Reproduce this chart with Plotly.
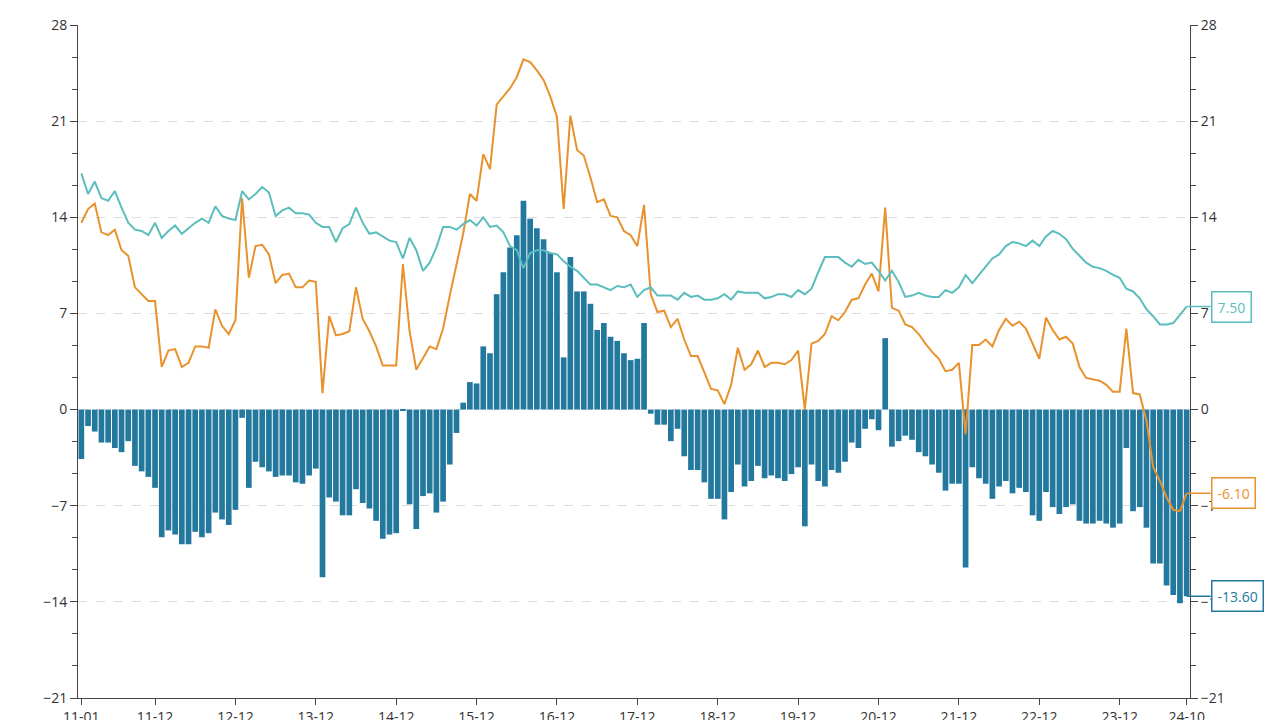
import plotly.graph_objects as go

# months 2011-01 .. 2024-10
months = [f"{y:02d}-{m:02d}" for y in range(11, 25) for m in range(1, 13)][:166]

bars = [-3.6, -1.2, -1.6, -2.4, -2.4, -2.8, -3.1, -2.3, -4.1, -4.5, -4.9, -5.7, -9.3, -8.8, -9.1, -9.8, -9.8, -8.9, -9.3, -9.0, -7.5, -8.0, -8.4, -7.3, -0.6, -5.7, -3.8,
        -4.2, -4.5, -4.9, -4.8, -4.8, -5.3, -5.4, -4.8, -4.3, -12.2, -6.4, -6.7, -7.7, -7.7, -5.8, -6.8, -7.2, -8.1, -9.4, -9.1, -9.0, -0.1, -6.9, -8.7, -6.3, -6.1, -7.5, -6.7, -4.0, -1.7,
        0.5, 2.0, 1.9, 4.6, 4.1, 8.4, 10.0, 11.8, 12.7, 15.2, 13.9, 13.2, 12.4, 11.4, 10.0, 3.8, 11.1, 8.6, 8.6, 7.7, 5.8, 6.3, 5.3, 5.0, 4.1, 3.6, 3.7, 6.3, -0.3, -1.1,
        -1.1, -2.3, -1.4, -3.4, -4.4, -4.4, -5.3, -6.5, -6.5, -8.0, -6.0, -4.0, -5.6, -5.2, -4.1, -5.0, -4.8, -5.0, -5.2, -4.7, -4.2, -8.5, -4.0, -5.2, -5.6, -4.4, -4.6, -3.8,
        -2.4, -2.8, -1.4, -0.7, -1.5, 5.2, -2.7, -2.3, -1.9, -2.2, -3.1, -3.4, -4.0, -4.6, -5.9, -5.4, -5.4, -11.5, -4.2, -5.0, -5.4, -6.5, -5.6, -5.2, -6.1, -5.7, -6.0,
        -7.7, -8.1, -6.0, -7.1, -7.6, -7.1, -6.9, -8.1, -8.3, -8.3, -8.1, -8.3, -8.6, -8.3, -2.8, -7.4, -7.1, -8.6, -11.2, -11.2, -12.8, -13.5, -14.1, -13.6]

orange = [13.6, 14.6, 15.0, 12.9, 12.7, 13.1, 11.6, 11.2, 8.9, 8.4, 7.9, 7.9, 3.1, 4.3, 4.4, 3.1, 3.4, 4.6, 4.6, 4.5, 7.3, 6.1, 5.5, 6.5, 15.4, 9.6, 11.9,
          12.0, 11.3, 9.2, 9.8, 9.9, 8.9, 8.9, 9.4, 9.3, 1.2, 6.8, 5.4, 5.5, 5.7, 8.9, 6.6, 5.7, 4.6, 3.2, 3.2, 3.2, 10.6, 5.7, 2.9, 3.7, 4.6, 4.4, 5.9, 8.3, 10.6,
          12.8, 15.7, 15.2, 18.6, 17.5, 22.2, 22.8, 23.4, 24.2, 25.5, 25.3, 24.7, 24.0, 22.8, 21.3, 14.6, 21.4, 18.9, 18.5, 16.9, 15.1, 15.3, 14.1, 14.0, 13.0, 12.7, 11.9, 14.9, 8.4, 7.1,
          7.2, 6.0, 6.6, 5.1, 3.9, 3.9, 2.7, 1.5, 1.4, 0.4, 1.8, 4.5, 2.9, 3.3, 4.3, 3.1, 3.4, 3.4, 3.3, 3.6, 4.3, 0.0, 4.8, 5.0, 5.5, 6.8, 6.5, 7.1,
          8.0, 8.1, 9.1, 9.9, 8.6, 14.7, 7.4, 7.2, 6.2, 6.0, 5.5, 4.8, 4.2, 3.7, 2.8, 2.9, 3.4, -1.8, 4.7, 4.7, 5.1, 4.6, 5.8, 6.6, 6.1, 6.4, 5.9,
          4.8, 3.7, 6.7, 5.8, 5.1, 5.3, 4.8, 3.1, 2.3, 2.2, 2.1, 1.8, 1.3, 1.3, 5.9, 1.2, 1.1, -0.8, -4.2, -5.2, -6.4, -7.3, -7.4, -6.1]

teal = [17.2, 15.7, 16.6, 15.4, 15.2, 15.9, 14.7, 13.6, 13.1, 13.0, 12.7, 13.6, 12.5, 13.0, 13.4, 12.8, 13.2, 13.6, 13.9, 13.6, 14.8, 14.1, 13.9, 13.8, 15.9, 15.3, 15.7,
        16.2, 15.8, 14.1, 14.5, 14.7, 14.3, 14.3, 14.2, 13.6, 13.3, 13.3, 12.2, 13.2, 13.5, 14.7, 13.6, 12.8, 12.9, 12.6, 12.3, 12.2, 11.0, 12.5, 11.6, 10.1, 10.7, 11.8, 13.3, 13.3, 13.1,
        13.5, 13.8, 13.4, 14.0, 13.3, 13.4, 12.9, 11.9, 11.6, 10.3, 11.4, 11.6, 11.6, 11.4, 11.3, 10.8, 10.4, 10.1, 9.6, 9.1, 9.1, 8.9, 8.7, 9.0, 8.9, 9.1, 8.2, 8.7, 8.9, 8.3,
        8.3, 8.3, 8.0, 8.5, 8.2, 8.3, 8.0, 8.0, 8.1, 8.4, 8.0, 8.6, 8.5, 8.5, 8.5, 8.1, 8.2, 8.4, 8.4, 8.2, 8.7, 8.4, 8.8, 10.0, 11.1, 11.1, 11.1, 10.7,
        10.4, 10.9, 10.6, 10.7, 10.1, 9.4, 10.1, 9.3, 8.2, 8.3, 8.5, 8.3, 8.2, 8.2, 8.7, 8.5, 8.9, 9.8, 9.2, 9.8, 10.4, 11.0, 11.3, 11.9, 12.2, 12.1, 11.9,
        12.3, 11.9, 12.6, 13.0, 12.8, 12.4, 11.7, 11.2, 10.7, 10.4, 10.3, 10.1, 9.8, 9.6, 8.8, 8.6, 8.1, 7.3, 6.8, 6.2, 6.2, 6.3, 6.9, 7.5]

tick_idx = [0, 11, 23, 35, 47, 59, 71, 83, 95, 107, 119, 131, 143, 155, 165]

BLUE, ORANGE, TEAL = "#23789e", "#e8922e", "#5bbdbd"

fig = go.Figure()
fig.add_trace(go.Bar(x=months, y=bars, marker=dict(color=BLUE, line=dict(width=0))))
fig.add_trace(go.Scatter(x=months, y=orange, mode="lines", line=dict(color=ORANGE, width=2)))
fig.add_trace(go.Scatter(x=months, y=teal, mode="lines", line=dict(color=TEAL, width=2), yaxis="y2"))

yax = dict(range=[-21, 28], tickvals=[-21, -14, -7, 0, 7, 14, 21, 28], showline=True, linecolor="#444",
           ticks="outside", ticklen=7, tickcolor="#444", zeroline=False, automargin=False,
           tickfont=dict(family="Open Sans", size=14, color="#333"),
           minor=dict(dtick=7 / 3, tick0=0, ticks="outside", ticklen=5, tickcolor="#444", showgrid=False))
fig.update_layout(
    width=1280, height=720, margin=dict(l=70, r=98, t=17, b=30),
    plot_bgcolor="white", paper_bgcolor="white", showlegend=False, bargap=0.15,
    xaxis=dict(type="category", tickvals=[months[i] for i in tick_idx], showline=True, linecolor="#444",
               ticks="outside", ticklen=6, tickcolor="#444", showgrid=False, automargin=False,
               tickfont=dict(family="Open Sans", size=14, color="#333"), range=[-0.5, 165.5]),
    yaxis=dict(**yax, showgrid=True, gridcolor="#ddd", griddash="dash"),
    yaxis2=dict(**yax, overlaying="y", side="right", showgrid=False),
)

for val, col in [(teal[-1], TEAL), (orange[-1], ORANGE), (bars[-1], BLUE)]:
    fig.add_annotation(x=months[-1], y=val, text=f"{val:.2f}", showarrow=True, arrowhead=0,
                       arrowcolor=col, arrowwidth=1.5, ax=24, ay=0, xanchor="left",
                       bordercolor=col, borderwidth=1.5, borderpad=5, bgcolor="white",
                       font=dict(family="Open Sans", size=14, color=col))

fig.write_html("out.html")
